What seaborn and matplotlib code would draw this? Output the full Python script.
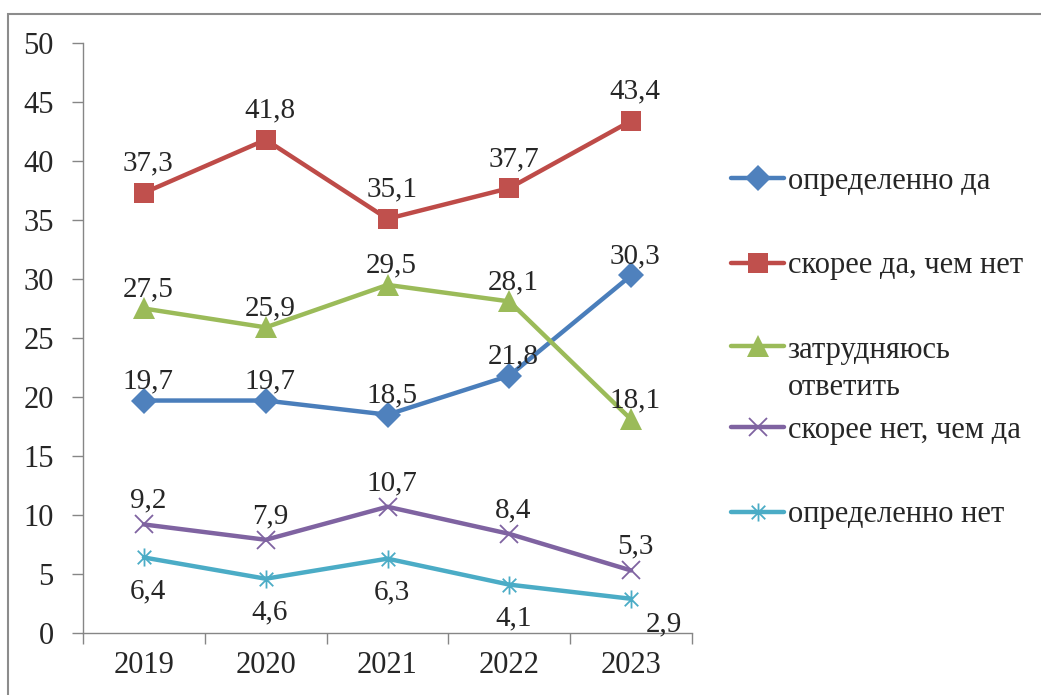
import numpy as np
import pandas as pd
import matplotlib.pyplot as plt
import matplotlib.patches as mpatches
from matplotlib.path import Path
import seaborn as sns

# Данные
years = ["2019", "2020", "2021", "2022", "2023"]
series_names = ["определенно да", "скорее да, чем нет", "затрудняюсь\nответить",
                "скорее нет, чем да", "определенно нет"]
opredelenno_da = [19.7, 19.7, 18.5, 21.8, 30.3]
skoree_da = [37.3, 41.8, 35.1, 37.7, 43.4]
zatrudnyayus = [27.5, 25.9, 29.5, 28.1, 18.1]
skoree_net = [9.2, 7.9, 10.7, 8.4, 5.3]
opredelenno_net = [6.4, 4.6, 6.3, 4.1, 2.9]
values = [opredelenno_da, skoree_da, zatrudnyayus, skoree_net, opredelenno_net]

sns.set_style("white")
plt.rcParams["font.family"] = ["Liberation Serif", "DejaVu Serif"]

# маркер "звездочка" как в Excel
star = Path([(0, -1), (0, 1), (-0.75, -0.75), (0.75, 0.75), (-0.75, 0.75), (0.75, -0.75)],
            [Path.MOVETO, Path.LINETO, Path.MOVETO, Path.LINETO, Path.MOVETO, Path.LINETO])

styles = [
    dict(color="#4A7EBB", mfc="#4F81BD", marker="D", ms=13, mew=0),
    dict(color="#BE4B48", mfc="#C0504D", marker="s", ms=14, mew=0),
    dict(color="#9BBB59", mfc="#9BBB59", marker="^", ms=16, mew=0),
    dict(color="#7F63A1", mfc="none", marker="x", ms=13, mew=1.3),
    dict(color="#4BACC6", mfc="none", marker=star, ms=13, mew=1.3),
]
# смещение подписей (pt)
label_offsets = [(3, 9), (3, 16), (3, 9), (3, 12), (3, -15)]

fig = plt.figure(figsize=(10.41, 6.95), dpi=100)
ax = fig.add_axes([83 / 1041, 1 - 633 / 695, 609 / 1041, 590 / 695])

x = np.arange(len(years))
for name, vals, st, off in zip(series_names, values, styles, label_offsets):
    mec = st["color"] if st["mfc"] == "none" else st["mfc"]
    sns.lineplot(x=x, y=vals, ax=ax, label=name, color=st["color"], lw=3.2,
                 marker=st["marker"], markersize=st["ms"], markerfacecolor=st["mfc"],
                 markeredgecolor=mec, markeredgewidth=st["mew"], legend=False)
    for i, v in enumerate(vals):
        dx, dy = off
        if name == "определенно нет" and i == 4:
            dx, dy = 24, -9
        ax.annotate(f"{v:.1f}".replace(".", ","), (i, v), xytext=(dx, dy),
                    textcoords="offset points", ha="center",
                    va="baseline" if dy > 0 else "top", fontsize=21)

ax.set_xlim(-0.5, 4.5)
ax.set_ylim(0, 50)
ax.set_yticks(range(0, 51, 5))
ax.set_xticks(np.arange(-0.5, 4.6, 1))
ax.set_xticklabels([])
ax.set_xticks(x, minor=True)
ax.set_xticklabels(years, minor=True)
ax.tick_params(axis="x", which="major", bottom=True, direction="out", length=8, width=1,
               color="#868686")
ax.tick_params(axis="x", which="minor", bottom=True, length=0, pad=13, labelsize=22)
ax.tick_params(axis="y", left=True, direction="out", length=8, width=1, color="#868686",
               pad=13, labelsize=22)

for s in ["top", "right"]:
    ax.spines[s].set_visible(False)
for s in ["left", "bottom"]:
    ax.spines[s].set_color("#868686")
    ax.spines[s].set_linewidth(1)

# легенда двумя блоками, чтобы сохранить шаг строк как в Excel
handles, labels = ax.get_legend_handles_labels()
leg_kw = dict(frameon=False, fontsize=22, handlelength=1.75, handletextpad=0.1,
              labelspacing=1.81, borderaxespad=0, borderpad=0)
leg1 = fig.legend(handles[:3], labels[:3], loc="upper left",
                  bbox_to_anchor=(731 / 1041, 1 - 167 / 695), **leg_kw)
leg1.get_texts()[2].set_linespacing(1.38)
# маркер двухстрочной подписи - на уровне первой строки
try:
    leg1._legend_handle_box.get_children()[0].get_children()[2].align = "top"
except Exception:
    pass
fig.legend(handles[3:], labels[3:], loc="upper left",
           bbox_to_anchor=(731 / 1041, 1 - 416 / 695), **leg_kw)

# рамка области диаграммы
fig.patches.append(mpatches.Rectangle((8 / 1041, -0.1), 1.2, 1.1 - 13.5 / 695,
                                      transform=fig.transFigure, fill=False,
                                      edgecolor="#8C8C8C", lw=1.5))

fig.savefig("out.png", dpi=100)
